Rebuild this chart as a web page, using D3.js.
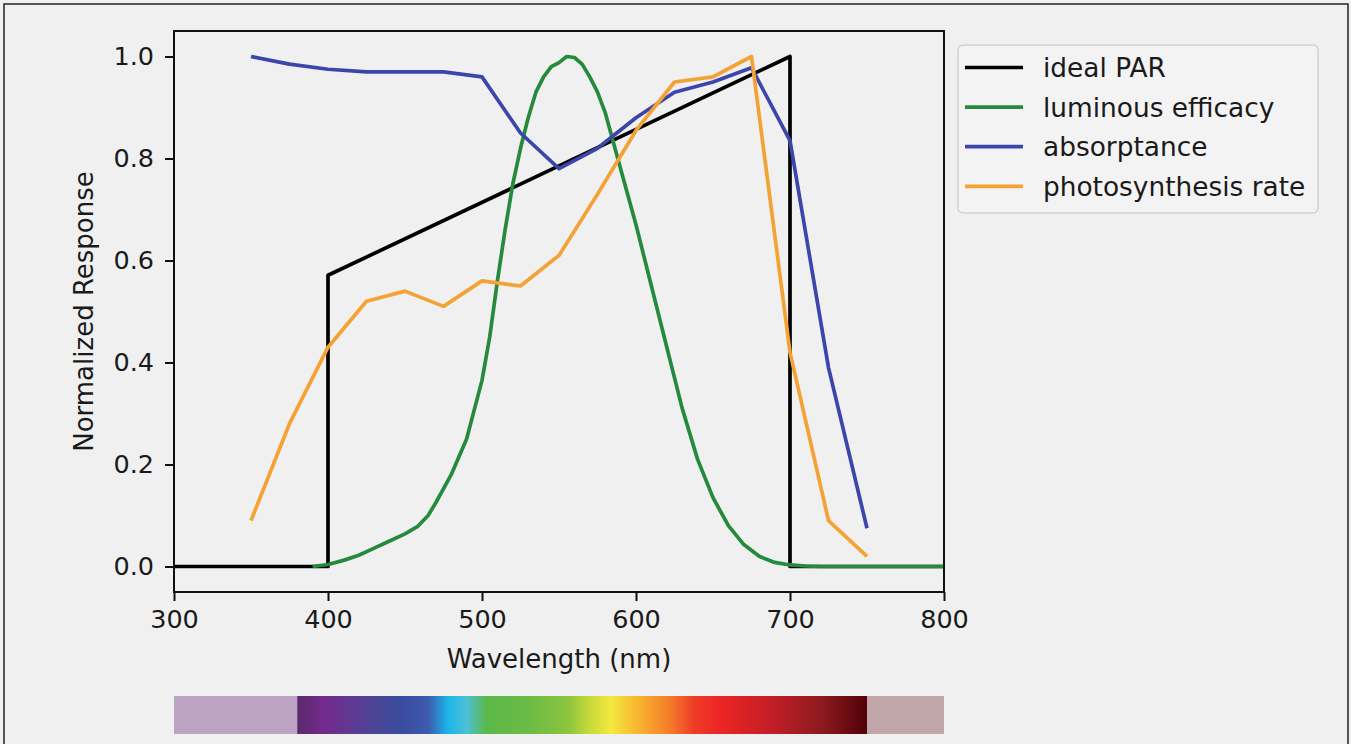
<!DOCTYPE html>
<html>
<head>
<meta charset="utf-8">
<script src="https://cdn.jsdelivr.net/npm/d3@7"></script>
<style>
  body { margin: 0; background: #f1f0f1; }
  svg { display: block; font-family: "DejaVu Sans", sans-serif; }
</style>
</head>
<body>
<svg width="1351" height="744"></svg>
<script>
// ideal PAR: flat zero, jump at 400 nm, rises as wavelength/700, drops at 700 nm
var parWl  = [300, 400, 400, 700, 700, 800];
var parVal = [0, 0, 0.571, 1.0, 0, 0];

// luminous efficacy
var lumWl  = [390, 400, 410, 420, 430, 440, 450, 458, 465, 470, 480, 490, 500, 505, 510, 515, 520, 525, 530, 535, 540, 545, 550, 555, 560, 565, 570, 575, 580, 590, 600, 610, 620, 630, 640, 650, 660, 670, 680, 690, 700, 710, 720, 800];
var lumVal = [0, 0.004, 0.012, 0.022, 0.036, 0.05, 0.064, 0.078, 0.1, 0.125, 0.18, 0.25, 0.365, 0.45, 0.56, 0.66, 0.75, 0.82, 0.88, 0.93, 0.96, 0.98, 0.988, 1.0, 0.998, 0.985, 0.96, 0.93, 0.89, 0.78, 0.67, 0.55, 0.43, 0.31, 0.21, 0.135, 0.08, 0.043, 0.02, 0.008, 0.003, 0.001, 0, 0];

// leaf absorptance and photosynthesis rate, every 25 nm
var wl25      = [350, 375, 400, 425, 450, 475, 500, 525, 550, 575, 600, 625, 650, 675, 700, 725, 750];
var absorbVal = [1.0, 0.985, 0.975, 0.97, 0.97, 0.97, 0.96, 0.85, 0.78, 0.82, 0.88, 0.93, 0.95, 0.978, 0.835, 0.39, 0.075];
var photoVal  = [0.09, 0.28, 0.43, 0.52, 0.54, 0.51, 0.56, 0.55, 0.61, 0.73, 0.855, 0.95, 0.96, 1.0, 0.42, 0.09, 0.02];

var seriesNames  = ["ideal PAR", "luminous efficacy", "absorptance", "photosynthesis rate"];
var seriesColors = ["#000000", "#258a3c", "#3c46aa", "#f4a235"];

var xTicks = [300, 400, 500, 600, 700, 800];
var yTicks = [0, 0.2, 0.4, 0.6, 0.8, 1.0];

// visible spectrum strip
var spectrumWl = [380, 397, 430, 447, 465, 478, 490, 503, 529, 556, 570, 584, 602, 622, 638, 655, 688, 721, 750];
var spectrumColors = ["#5a2a6c", "#732a8c", "#4d4596", "#3b4c9e", "#3d5aae", "#1cb6ea", "#4cc0d6", "#5cb84a", "#6abb45", "#8cc43e",
                      "#c8da3a", "#f3e83e", "#f8b430", "#f47c2a", "#ee3c28", "#ed2524", "#c21e28", "#8c1a1e", "#520008"];
var uvColor = "#bda4c4", irColor = "#c0a6a8";

var svg = d3.select("svg");

// outer frame of the picture
svg.append("rect")
    .attr("x", 4).attr("y", 4).attr("width", 1344).attr("height", 760)
    .attr("fill", "#f1f0f1").attr("stroke", "#222").attr("stroke-width", 1.5);

var margin = { left: 174, top: 31, right: 944, bottom: 592 };

var x = d3.scaleLinear().domain([300, 800]).range([margin.left, margin.right]);
var y = d3.scaleLinear().domain([-0.05, 1.05]).range([margin.bottom, margin.top]);

var g = svg.append("g");

// axes
var xAxis = g.append("g")
    .attr("transform", "translate(0," + margin.bottom + ")")
    .call(d3.axisBottom(x).tickValues(xTicks).tickSize(9).tickPadding(9).tickFormat(d3.format("d")));
var yAxis = g.append("g")
    .attr("transform", "translate(" + margin.left + ",0)")
    .call(d3.axisLeft(y).tickValues(yTicks).tickSize(9).tickPadding(11).tickFormat(d3.format(".1f")));

[xAxis, yAxis].forEach(function (a) {
    a.select(".domain").remove();
    a.selectAll(".tick line").attr("stroke", "#111").attr("stroke-width", 2);
    a.selectAll(".tick text").attr("font-size", 25.5).attr("fill", "#1a1a1a").attr("font-family", "DejaVu Sans");
});

// lines
svg.append("clipPath").attr("id", "plotclip")
    .append("rect")
    .attr("x", margin.left).attr("y", margin.top)
    .attr("width", margin.right - margin.left).attr("height", margin.bottom - margin.top);

var line = d3.line().x(function (d) { return x(d[0]); }).y(function (d) { return y(d[1]); });

var series = [
    d3.zip(parWl, parVal),
    d3.zip(lumWl, lumVal),
    d3.zip(wl25, absorbVal),
    d3.zip(wl25, photoVal)
];

var plot = g.append("g").attr("clip-path", "url(#plotclip)");
series.forEach(function (s, i) {
    plot.append("path")
        .datum(s)
        .attr("d", line)
        .attr("fill", "none")
        .attr("stroke", seriesColors[i])
        .attr("stroke-width", 3.7)
        .attr("stroke-linejoin", "round")
        .attr("stroke-linecap", "butt");
});

// plot frame
g.append("rect")
    .attr("x", margin.left).attr("y", margin.top)
    .attr("width", margin.right - margin.left).attr("height", margin.bottom - margin.top)
    .attr("fill", "none").attr("stroke", "#111").attr("stroke-width", 2);

// axis titles
g.append("text")
    .attr("x", (margin.left + margin.right) / 2).attr("y", 668)
    .attr("text-anchor", "middle").attr("font-size", 26).attr("fill", "#1a1a1a")
    .text("Wavelength (nm)");
g.append("text")
    .attr("transform", "translate(93," + (margin.top + margin.bottom) / 2 + ") rotate(-90)")
    .attr("text-anchor", "middle").attr("font-size", 26).attr("fill", "#1a1a1a")
    .text("Normalized Response");

// legend
var legend = g.append("g");
legend.append("rect")
    .attr("x", 958).attr("y", 45).attr("width", 360).attr("height", 168)
    .attr("rx", 5).attr("fill", "#f4f3f4").attr("stroke", "#d2d2d2").attr("stroke-width", 1.5);
seriesNames.forEach(function (name, i) {
    var ly = 67.5 + i * 39.6;
    legend.append("line")
        .attr("x1", 965).attr("x2", 1023).attr("y1", ly).attr("y2", ly)
        .attr("stroke", seriesColors[i]).attr("stroke-width", 3.7);
    legend.append("text")
        .attr("x", 1043).attr("y", ly).attr("dy", "0.36em")
        .attr("font-size", 26.4).attr("fill", "#1a1a1a")
        .text(name);
});

// spectrum strip under the axis
var defs = svg.append("defs");
var grad = defs.append("linearGradient")
    .attr("id", "spectrum")
    .attr("gradientUnits", "userSpaceOnUse")
    .attr("x1", x(380)).attr("x2", x(750)).attr("y1", 0).attr("y2", 0);
spectrumWl.forEach(function (w, i) {
    grad.append("stop")
        .attr("offset", (w - 380) / (750 - 380))
        .attr("stop-color", spectrumColors[i]);
});

var barTop = 696, barH = 38;
g.append("rect").attr("x", x(300)).attr("y", barTop).attr("width", x(380) - x(300)).attr("height", barH).attr("fill", uvColor);
g.append("rect").attr("x", x(380)).attr("y", barTop).attr("width", x(750) - x(380)).attr("height", barH).attr("fill", "url(#spectrum)");
g.append("rect").attr("x", x(750)).attr("y", barTop).attr("width", x(800) - x(750)).attr("height", barH).attr("fill", irColor);
</script>
</body>
</html>
